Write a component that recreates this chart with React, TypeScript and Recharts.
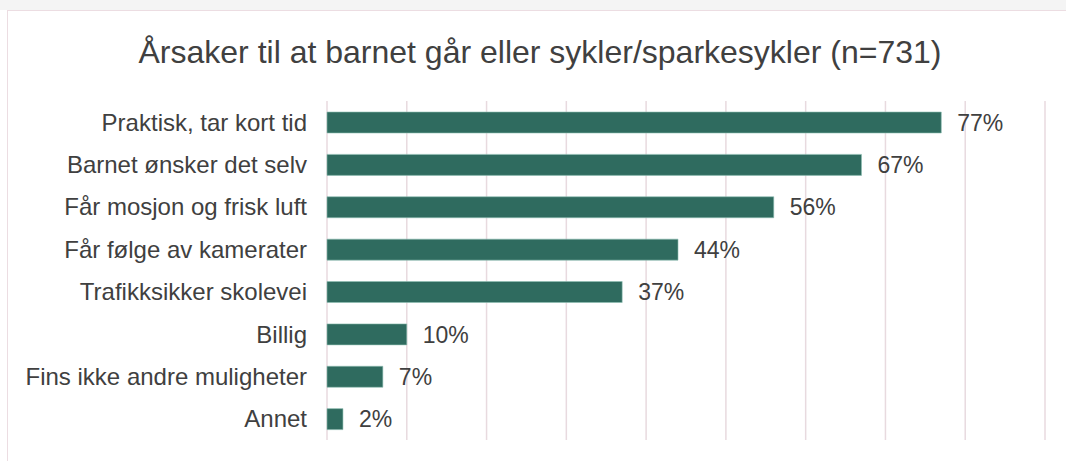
import React from "react";
import { Bar, BarChart, CartesianGrid, LabelList, XAxis, YAxis } from "recharts";

const categories = [
  "Praktisk, tar kort tid",
  "Barnet ønsker det selv",
  "Får mosjon og frisk luft",
  "Får følge av kamerater",
  "Trafikksikker skolevei",
  "Billig",
  "Fins ikke andre muligheter",
  "Annet",
];
const values = [77, 67, 56, 44, 37, 10, 7, 2];
const xTicks = [0, 10, 20, 30, 40, 50, 60, 70, 80, 90];

const chartData = categories.map((name, i) => ({ name, value: values[i] }));

const font = "'Liberation Sans', Arial, sans-serif";

const App = () => {
  return (
    <div
      style={{
        position: "absolute",
        left: 0,
        top: 0,
        width: 1066,
        height: 461,
        background: "#ffffff",
        fontFamily: font,
        overflow: "hidden",
      }}
    >
      <div style={{ position: "absolute", left: 0, top: 0, width: 1066, height: 10, background: "#f4f4f4" }} />
      <div
        style={{
          position: "absolute",
          left: 7,
          top: 10,
          width: 1070,
          height: 470,
          borderLeft: "1px solid #ecdde2",
          borderTop: "1px solid #ecdde2",
        }}
      />
      <div
        style={{
          position: "absolute",
          left: 7,
          top: 29,
          width: 1066,
          textAlign: "center",
          fontSize: 32,
          color: "#404040",
          lineHeight: "46px",
        }}
      >
        Årsaker til at barnet går eller sykler/sparkesykler (n=731)
      </div>
      <div style={{ position: "absolute", left: 0, top: 0 }}>
        <BarChart
          width={1066}
          height={461}
          data={chartData}
          layout="vertical"
          barSize={21}
          margin={{ top: 101, right: 21, bottom: 21, left: 0 }}
        >
          <CartesianGrid horizontal={false} stroke="#e8dadf" strokeWidth={1.5} />
          <XAxis type="number" domain={[0, 90]} ticks={xTicks} hide />
          <YAxis
            type="category"
            dataKey="name"
            width={327}
            axisLine={false}
            tickLine={false}
            tickSize={0}
            tickMargin={20}
            tick={{ fill: "#404040", fontSize: 24, fontFamily: font }}
            interval={0}
          />
          <Bar dataKey="value" fill="#2f6b5f" stroke="#8fbfb3" strokeWidth={0.6} isAnimationActive={false}>
            <LabelList
              dataKey="value"
              position="right"
              offset={16}
              formatter={(v: number) => `${v}%`}
              style={{ fill: "#404040", fontSize: 23, fontFamily: font }}
            />
          </Bar>
        </BarChart>
      </div>
    </div>
  );
};

export default App;
